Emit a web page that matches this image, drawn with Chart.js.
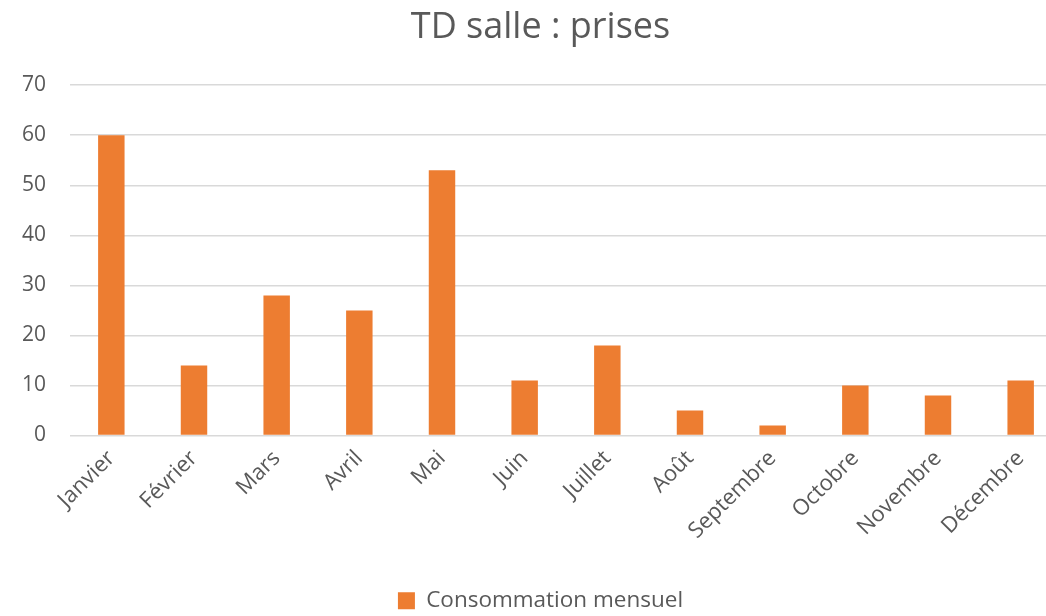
<!DOCTYPE html>
<html>
<head>
<meta charset="utf-8">
<script src="https://cdn.jsdelivr.net/npm/chart.js@4/dist/chart.umd.min.js"></script>
<style>
  html, body { margin: 0; padding: 0; background: #fff; overflow: hidden; }
  #wrap { width: 1100px; height: 616px; }
</style>
</head>
<body>
<div id="wrap"><canvas id="chart"></canvas></div>
<script>
// Data
const months = ['Janvier', 'Février', 'Mars', 'Avril', 'Mai', 'Juin', 'Juillet', 'Août', 'Septembre', 'Octobre', 'Novembre', 'Décembre'];
const consommation = [60, 14, 28, 25, 53, 11, 18, 5, 2, 10, 8, 11];
const seriesName = 'Consommation mensuel';
const chartTitle = 'TD salle : prises';

const textColor = '#595959';
const fontFamily = '"Open Sans", "Noto Sans", sans-serif';

// the original chart is wider than the picture and gets cut on the right
const ctx = document.getElementById('chart').getContext('2d');
new Chart(ctx, {
  type: 'bar',
  data: {
    labels: months,
    datasets: [{
      label: seriesName,
      data: consommation,
      backgroundColor: '#ED7D31',
      barPercentage: 0.32,
      categoryPercentage: 1.0
    }]
  },
  options: {
    responsive: true,
    maintainAspectRatio: false,
    animation: false,
    layout: { padding: { left: 19, right: 38, top: 6, bottom: -6 } },
    plugins: {
      title: {
        display: true,
        text: chartTitle,
        color: textColor,
        font: { family: fontFamily, size: 36, weight: 'normal' },
        padding: { top: 0, bottom: 36 }
      },
      legend: {
        position: 'bottom',
        labels: {
          color: textColor,
          font: { family: fontFamily, size: 22.5 },
          boxWidth: 17,
          boxHeight: 17,
          padding: 0
        }
      },
      tooltip: { enabled: false }
    },
    scales: {
      x: {
        grid: { display: false },
        border: { display: false },
        ticks: {
          color: textColor,
          font: { family: fontFamily, size: 22 },
          minRotation: 45,
          maxRotation: 45,
          padding: 2
        },
        afterFit: (scale) => { scale.height = 154; }
      },
      y: {
        min: 0,
        max: 70,
        ticks: {
          stepSize: 10,
          color: textColor,
          font: { family: fontFamily, size: 21 },
          padding: 24
        },
        grid: { color: '#d9d9d9', lineWidth: 1.5, drawTicks: false },
        border: { display: false },
        afterFit: (scale) => { scale.width = 51; }
      }
    }
  }
});
</script>
</body>
</html>
